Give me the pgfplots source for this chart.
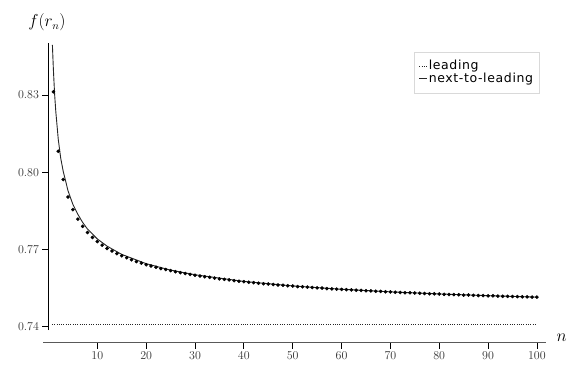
\documentclass[border=0pt]{standalone}
\usepackage{pgfplots}
\usepackage{pgfplotstable}
\pgfplotsset{compat=1.18}
\usepackage{fontspec}
\newfontfamily\legfont[LetterSpace=5]{DejaVu Sans}

\pgfplotstableread{
n f
1 0.8313
2 0.8082
3 0.7972
4 0.7904
5 0.7855
6 0.7818
7 0.7790
8 0.7766
9 0.7747
10 0.7731
11 0.7717
12 0.7704
13 0.7694
14 0.7684
15 0.7676
16 0.7668
17 0.7660
18 0.7653
19 0.7647
20 0.7641
21 0.7636
22 0.7631
23 0.7626
24 0.7622
25 0.7618
26 0.7614
27 0.7610
28 0.7607
29 0.7603
30 0.7600
31 0.7597
32 0.7594
33 0.7592
34 0.7589
35 0.7586
36 0.7584
37 0.7582
38 0.7579
39 0.7577
40 0.7575
41 0.7573
42 0.7571
43 0.7569
44 0.7567
45 0.7566
46 0.7564
47 0.7562
48 0.7561
49 0.7559
50 0.7558
51 0.7556
52 0.7555
53 0.7554
54 0.7552
55 0.7551
56 0.7550
57 0.7548
58 0.7547
59 0.7546
60 0.7545
61 0.7544
62 0.7543
63 0.7542
64 0.7541
65 0.7540
66 0.7539
67 0.7538
68 0.7537
69 0.7536
70 0.7535
71 0.7534
72 0.7533
73 0.7532
74 0.7532
75 0.7531
76 0.7530
77 0.7529
78 0.7528
79 0.7528
80 0.7527
81 0.7526
82 0.7525
83 0.7525
84 0.7524
85 0.7523
86 0.7523
87 0.7522
88 0.7521
89 0.7521
90 0.7520
91 0.7520
92 0.7519
93 0.7518
94 0.7518
95 0.7517
96 0.7517
97 0.7516
98 0.7516
99 0.7515
100 0.7515
}\dotsdata

\pgfplotstableread{
n f
0.8 0.8495
1 0.8400
1.25 0.8304
1.5 0.8235
2 0.8128
2.5 0.8055
3 0.8005
4 0.7928
5 0.7875
6 0.7837
7 0.7805
8 0.7779
10 0.7741
12 0.7713
15 0.7681
20 0.7645
25 0.7620
30 0.7602
40 0.7576
50 0.75585
60 0.75456
70 0.75355
80 0.75274
90 0.75207
100 0.7515
}\nlodata

\begin{document}
\begin{tikzpicture}
\begin{axis}[
  scale only axis,
  width=497.2pt, height=286.9pt,
  xmin=0, xmax=101.8, ymin=0.73872, ymax=0.85021,
  axis x line*=bottom, axis y line*=left,
  axis x line shift=12.7pt,
  x axis line style={-, line width=1.3pt, black!65, shorten <=-5.2pt},
  y axis line style={-, line width=1pt, black},
  xtick={10,20,...,100},
  ytick={0.74,0.77,0.80,0.83},
  tick align=outside,
  major tick length=6pt,
  tick style={black, line width=0.8pt},
  yticklabel style={/pgf/number format/.cd, fixed, fixed zerofill, precision=2},
  tick label style={font=\fontsize{12.8}{15}\selectfont, black!80},
  every axis x label/.style={at={(rel axis cs:1,0)}, anchor=center, xshift=16pt, yshift=-8pt},
  every axis y label/.style={at={(rel axis cs:0,1)}, anchor=center, xshift=-1.5pt, yshift=21pt},
  label style={font=\fontsize{16}{19}\selectfont},
  xlabel={$n$},
  ylabel={$f(r_n)$},
  legend style={at={(rel axis cs:0.9871,0.970)}, anchor=north east,
    draw=black!15, font=\legfont\fontsize{12.5}{14}\selectfont,
    inner xsep=5pt, inner ysep=7.5pt,
    nodes={inner sep=1pt}, row sep=0pt},
  legend cell align=left,
  legend image code/.code={\draw[#1] (0pt,0pt) -- (8pt,0pt);},
]
\addplot[only marks, mark=*, mark size=1.6pt, black, forget plot] table[x=n,y=f] {\dotsdata};
\addplot[black!85, line width=0.8pt, dash pattern=on 1pt off 1.3pt] coordinates {(0.7,0.741) (100,0.741)};
\addlegendentry{leading}
\addplot[black!85, line width=0.9pt] table[x=n,y=f] {\nlodata};
\addlegendentry{next-to-leading}
\end{axis}
\pgfresetboundingbox
\path (-48.5pt,-40pt) rectangle (518.5pt,330pt);
\end{tikzpicture}
\end{document}
